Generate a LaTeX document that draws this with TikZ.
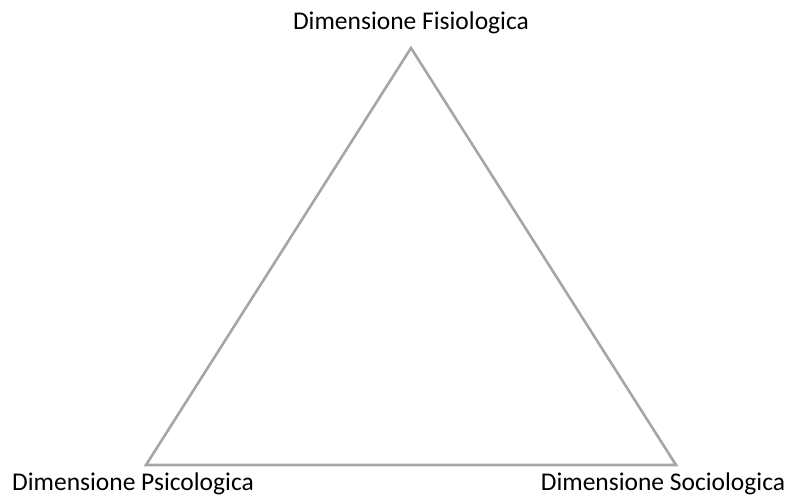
\documentclass[tikz,border=0pt]{standalone}
\usepackage{fontspec}
\setmainfont{Carlito}
\usetikzlibrary{positioning}
\tikzset{
  dimlabel/.style={anchor=base,inner sep=0pt,font=\fontsize{25.5}{29}\selectfont},
  dimside/.style={draw=black!35,line width=2.6pt,line join=miter},
}

\begin{document}
\begin{tikzpicture}[x=1pt,y=1pt]
\useasboundingbox (0,0) rectangle (790,498);

\coordinate (fis) at (411,450);
\coordinate (psi) at (146,33);
\coordinate (soc) at (676,33);

\node[dimlabel] (lfis) at (411,468) {Dimensione Fisiologica};
\node[dimlabel] (lpsi) at (133,7) {Dimensione Psicologica};
\node[dimlabel] (lsoc) at (663,7) {Dimensione Sociologica};

\draw[dimside] (fis) -- (soc) -- (psi) -- cycle;

\end{tikzpicture}
\end{document}
